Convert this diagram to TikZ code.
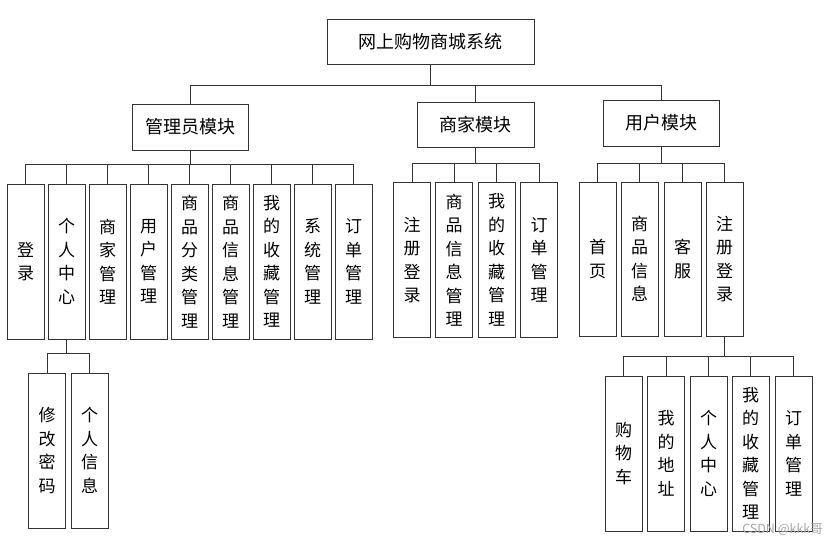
\documentclass[tikz,border=0pt]{standalone}
\usepackage{fontspec}
\newfontfamily\cjk{Noto Sans CJK SC}
\usetikzlibrary{positioning}
\tikzset{
  box/.style={draw=black!80, line width=0.8pt, inner sep=0pt, align=center,
    font=\cjk\fontsize{18}{22}\selectfont},
  leaf/.style={box, minimum width=37pt, minimum height=155pt,
    font=\cjk\fontsize{17}{23.5}\selectfont},
  link/.style={draw=black!80, line width=0.8pt},
}
\begin{document}
\begin{tikzpicture}[x=1pt,y=-1pt]
    \useasboundingbox (0,0) rectangle (835,546);
    % system and modules
    \node[box, minimum width=207pt, minimum height=45pt] (sys) at (430.5,41.5) {网上购物商城系统};
    \node[box, minimum width=116pt, minimum height=46pt] (adm) at (190,127) {管理员模块};
    \node[box, minimum width=117pt, minimum height=45pt] (mer) at (475.5,124.5) {商家模块};
    \node[box, minimum width=116pt, minimum height=46pt] (usr) at (661,123) {用户模块};
    \foreach \m in {adm, mer, usr} {
        \draw[link] (sys.south) -- ++(0,21) -| (\m.north);
    }

    % admin
    \foreach \lbl [count=\i] in {{登\\录}, {个\\人\\中\\心}, {商\\家\\管\\理}, {用\\户\\管\\理},
        {商\\品\\分\\类\\管\\理}, {商\\品\\信\\息\\管\\理}, {我\\的\\收\\藏\\管\\理},
        {系\\统\\管\\理}, {订\\单\\管\\理}} {
        \node[leaf] (a\i) at ({25.5+41*(\i-1)},261.5) {\lbl};
        \draw[link] (adm.south) -- ++(0,14) -| (a\i.north);
    }
    \foreach \x/\lbl [count=\i] in {47/{修\\改\\密\\码}, 89.5/{个\\人\\信\\息}} {
        \node[leaf] (p\i) at (\x,450.5) {\lbl};
        \draw[link] (a2.south) -- ++(0,14) -| (p\i.north);
    }

    % merchant
    \foreach \x/\lbl [count=\i] in {412/{注\\册\\登\\录}, 454/{商\\品\\信\\息\\管\\理},
        496.5/{我\\的\\收\\藏\\管\\理}, 539/{订\\单\\管\\理}} {
        \node[leaf] (m\i) at (\x,260) {\lbl};
        \draw[link] (mer.south) -- ++(0,16) -| (m\i.north);
    }

    % user
    \foreach \x/\lbl [count=\i] in {597.5/{首\\页}, 639.5/{商\\品\\信\\息}, 682.5/{客\\服},
        724.5/{注\\册\\登\\录}} {
        \node[leaf, minimum height=154pt] (u\i) at (\x,259) {\lbl};
        \draw[link] (usr.south) -- ++(0,17) -| (u\i.north);
    }
    \foreach \x/\lbl [count=\i] in {623.5/{购\\物\\车}, 666/{我\\的\\地\\址}, 708.5/{个\\人\\中\\心},
        750.5/{我\\的\\收\\藏\\管\\理}, 793.5/{订\\单\\管\\理}} {
        \node[leaf] (r\i) at (\x,453.5) {\lbl};
        \draw[link] (u4.south) -- ++(0,20) -| (r\i.north);
    }

    \node[text=black!35, font=\cjk\fontsize{12.5}{14}\selectfont, anchor=east, inner sep=0pt] (wm) at (823,530) {CSDN @kkk哥};
\end{tikzpicture}
\end{document}
